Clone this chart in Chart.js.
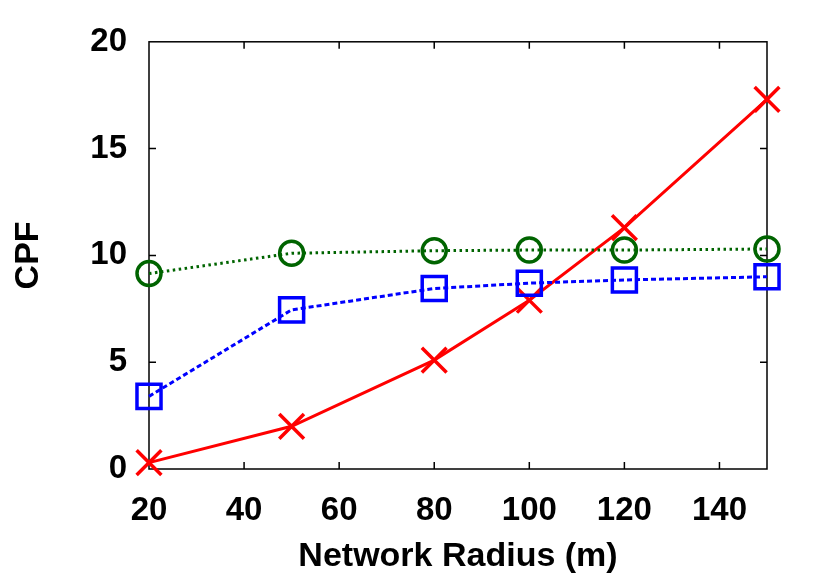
<!DOCTYPE html>
<html>
<head>
<meta charset="utf-8">
<script src="https://cdn.jsdelivr.net/npm/chart.js@4.4.1/dist/chart.umd.min.js"></script>
<style>
  html, body { margin: 0; padding: 0; background: #fff; }
  #wrap { width: 830px; height: 581px; }
</style>
</head>
<body>
<div id="wrap"><canvas id="c" width="830" height="581"></canvas></div>
<script>
const radius = [20, 50, 80, 100, 120, 150];
const redValues = [0.3, 2.0, 5.1, 7.9, 11.3, 17.3];
const blueValues = [3.4, 7.45, 8.45, 8.7, 8.85, 9.0];
const greenValues = [9.15, 10.1, 10.22, 10.25, 10.25, 10.3];
const xTickValues = [20, 40, 60, 80, 100, 120, 140];
const yTickValues = [0, 5, 10, 15, 20];

const FONT = "'Liberation Sans', Arial, Helvetica, sans-serif";

function pts(vals) { return radius.map((x, i) => ({ x: x, y: vals[i] })); }

const framePlugin = {
  id: 'frame',
  beforeDatasetsDraw(chart) {
    const ctx = chart.ctx;
    const a = chart.chartArea;
    const xs = chart.scales.x, ys = chart.scales.y;
    const tl = 7;
    ctx.save();
    ctx.strokeStyle = '#000';
    ctx.lineWidth = 1.5;
    ctx.strokeRect(a.left, a.top, a.right - a.left, a.bottom - a.top);
    ctx.beginPath();
    xTickValues.forEach(v => {
      const px = xs.getPixelForValue(v);
      if (Math.abs(px - a.left) < 2 || Math.abs(px - a.right) < 2) return;
      ctx.moveTo(px, a.bottom); ctx.lineTo(px, a.bottom - tl);
      ctx.moveTo(px, a.top); ctx.lineTo(px, a.top + tl);
    });
    yTickValues.forEach(v => {
      const py = ys.getPixelForValue(v);
      if (Math.abs(py - a.top) < 2 || Math.abs(py - a.bottom) < 2) return;
      ctx.moveTo(a.left, py); ctx.lineTo(a.left + tl, py);
      ctx.moveTo(a.right, py); ctx.lineTo(a.right - tl, py);
    });
    ctx.stroke();
    ctx.restore();
  }
};

new Chart(document.getElementById('c'), {
  type: 'line',
  data: {
    datasets: [
      {
        label: 'Green',
        data: pts(greenValues),
        borderColor: '#006400',
        backgroundColor: 'rgba(0,0,0,0)',
        borderWidth: 3,
        borderDash: [2.5, 3.5],
        pointStyle: 'circle',
        pointRadius: 12,
        pointBorderWidth: 3.5,
        pointBorderColor: '#006400',
        pointBackgroundColor: 'rgba(0,0,0,0)',
        clip: false,
        tension: 0
      },
      {
        label: 'Blue',
        data: pts(blueValues),
        borderColor: '#0000ff',
        backgroundColor: 'rgba(0,0,0,0)',
        borderWidth: 3,
        borderDash: [5, 3],
        pointStyle: 'rect',
        pointRadius: 17,
        pointBorderWidth: 3.5,
        pointBorderColor: '#0000ff',
        pointBackgroundColor: 'rgba(0,0,0,0)',
        clip: false,
        tension: 0
      },
      {
        label: 'Red',
        data: pts(redValues),
        borderColor: '#ff0000',
        backgroundColor: 'rgba(0,0,0,0)',
        borderWidth: 3,
        pointStyle: 'crossRot',
        pointRadius: 17.5,
        pointBorderWidth: 3.5,
        pointBorderColor: '#ff0000',
        clip: false,
        tension: 0
      }
    ]
  },
  options: {
    responsive: false,
    animation: false,
    devicePixelRatio: 1,
    layout: { padding: { top: 41, right: 63, left: 0, bottom: 0 } },
    plugins: { legend: { display: false }, tooltip: { enabled: false } },
    scales: {
      x: {
        type: 'linear',
        min: 20, max: 150,
        afterFit(scale) { scale.height = 112; },
        afterBuildTicks(scale) { scale.ticks = xTickValues.map(v => ({ value: v })); },
        grid: { display: false, drawTicks: false },
        border: { display: false },
        ticks: {
          color: '#000', padding: 22, maxRotation: 0, autoSkip: false,
          font: { family: FONT, size: 33, weight: 'bold' }
        },
        title: {
          display: true, text: 'Network Radius (m)', color: '#000',
          font: { family: FONT, size: 34, weight: 'bold', lineHeight: 1.2 },
          padding: { top: 0, bottom: 4 }
        }
      },
      y: {
        type: 'linear',
        min: 0, max: 20,
        afterFit(scale) { scale.width = 149; },
        afterBuildTicks(scale) { scale.ticks = yTickValues.map(v => ({ value: v })); },
        grid: { display: false, drawTicks: false },
        border: { display: false },
        ticks: {
          color: '#000', padding: 22, autoSkip: false,
          font: { family: FONT, size: 33, weight: 'bold' }
        },
        title: {
          display: true, text: 'CPF', color: '#000',
          font: { family: FONT, size: 34, weight: 'bold', lineHeight: 1.2 },
          padding: { top: 8, bottom: 0 }
        }
      }
    }
  },
  plugins: [framePlugin]
});
</script>
</body>
</html>
